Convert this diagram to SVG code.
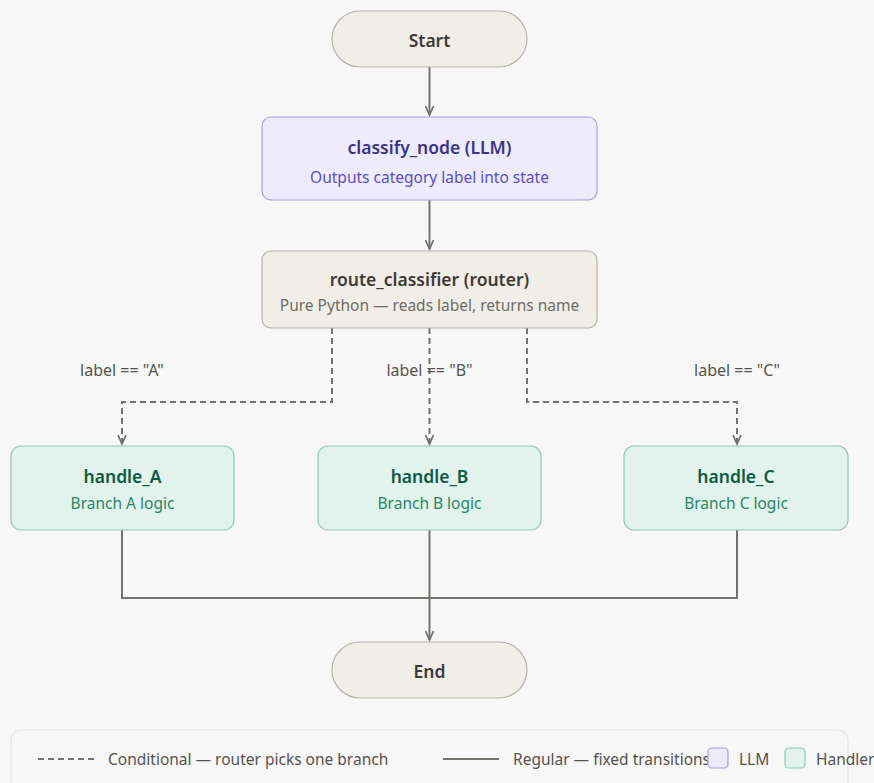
<svg xmlns="http://www.w3.org/2000/svg" width="874" height="783" viewBox="0 0 874 783">
  <style>
    text { font-family: "Noto Sans", "Open Sans", "Liberation Sans", sans-serif; text-anchor: middle; }
    .title { font-size: 17.5px; font-weight: 600; }
    .sub { font-size: 15.5px; }
    .neutral rect { fill: #f1eee8; stroke: #b7b3aa; stroke-width: 1.2; }
    .neutral .title { fill: #3d3b37; }
    .neutral .sub { fill: #6f6c66; }
    .llm rect { fill: #edebfc; stroke: #a89ee8; stroke-width: 1.2; }
    .llm .title { fill: #3c3489; }
    .llm .sub { fill: #5a4fc8; }
    .handler rect { fill: #e1f3ec; stroke: #8ecab2; stroke-width: 1.2; }
    .handler .title { fill: #0f5a45; }
    .handler .sub { fill: #2b8767; }
    .edge { fill: none; stroke: #74726c; stroke-width: 2; }
    .dash { stroke-dasharray: 6 4; }
    .elabel { font-size: 16px; fill: #55534e; }
    .legend-text { font-size: 15.5px; fill: #55534e; text-anchor: start; }
  </style>
  <defs>
    <marker id="arrow" viewBox="0 0 12 10" refX="10" refY="5" markerWidth="12" markerHeight="10" markerUnits="userSpaceOnUse" orient="auto">
      <path d="M1 1 L10 5 L1 9" fill="none" stroke="#74726c" stroke-width="1.8"/>
    </marker>
  </defs>

  <rect width="874" height="783" fill="#f7f7f7"/>

  <g id="connectors">
    <line class="edge" x1="429.5" y1="67" x2="429.5" y2="115" marker-end="url(#arrow)"/>
    <line class="edge" x1="429.5" y1="200" x2="429.5" y2="249" marker-end="url(#arrow)"/>
    <path class="edge dash" d="M332 328 V402 H122 V444" marker-end="url(#arrow)"/>
    <path class="edge dash" d="M429.5 328 V444" marker-end="url(#arrow)"/>
    <path class="edge dash" d="M527 328 V402 H737 V444" marker-end="url(#arrow)"/>
    <path class="edge" d="M122 530 V598 H737 V530"/>
    <path class="edge" d="M429.5 530 V640" marker-end="url(#arrow)"/>
    <text class="elabel" x="122" y="376">label == "A"</text>
    <text class="elabel" x="429.5" y="376">label == "B"</text>
    <text class="elabel" x="737" y="376">label == "C"</text>
  </g>

  <g id="start" class="neutral">
    <rect x="332" y="11" width="195" height="56" rx="28"/>
    <text class="title" x="429.5" y="47">Start</text>
  </g>

  <g id="classify_node" class="llm">
    <rect x="262" y="117" width="335" height="83" rx="9"/>
    <text class="title" x="429.5" y="154">classify_node (LLM)</text>
    <text class="sub" x="429.5" y="183">Outputs category label into state</text>
  </g>

  <g id="route_classifier" class="neutral">
    <rect x="262" y="251" width="335" height="77" rx="9"/>
    <text class="title" x="429.5" y="286">route_classifier (router)</text>
    <text class="sub" x="429.5" y="311">Pure Python — reads label, returns name</text>
  </g>

  <g id="handle_A" class="handler">
    <rect x="11" y="446" width="223" height="84" rx="10"/>
    <text class="title" x="122.5" y="483">handle_A</text>
    <text class="sub" x="122.5" y="509">Branch A logic</text>
  </g>

  <g id="handle_B" class="handler">
    <rect x="318" y="446" width="223" height="84" rx="10"/>
    <text class="title" x="429.5" y="483">handle_B</text>
    <text class="sub" x="429.5" y="509">Branch B logic</text>
  </g>

  <g id="handle_C" class="handler">
    <rect x="624" y="446" width="224" height="84" rx="10"/>
    <text class="title" x="736" y="483">handle_C</text>
    <text class="sub" x="736" y="509">Branch C logic</text>
  </g>

  <g id="end" class="neutral">
    <rect x="332" y="642" width="195" height="56" rx="28"/>
    <text class="title" x="429.5" y="678">End</text>
  </g>

  <g id="legend">
    <rect x="11" y="730" width="837" height="70" rx="10" fill="#f7f7f7" stroke="#e6e5e2" stroke-width="1.2"/>
    <line class="edge dash" x1="38" y1="759" x2="96" y2="759" stroke-dasharray="6 4.5"/>
    <text class="legend-text" x="108" y="765">Conditional — router picks one branch</text>
    <line class="edge" x1="443" y1="759" x2="499" y2="759"/>
    <text class="legend-text" x="513" y="765">Regular — fixed transitions</text>
    <rect x="708" y="748" width="20" height="20" rx="4" fill="#edebfc" stroke="#a89ee8" stroke-width="1.2"/>
    <text class="legend-text" x="739" y="765">LLM</text>
    <rect x="785" y="748" width="20" height="20" rx="4" fill="#e1f3ec" stroke="#8ecab2" stroke-width="1.2"/>
    <text class="legend-text" x="816" y="765">Handler</text>
  </g>
</svg>
